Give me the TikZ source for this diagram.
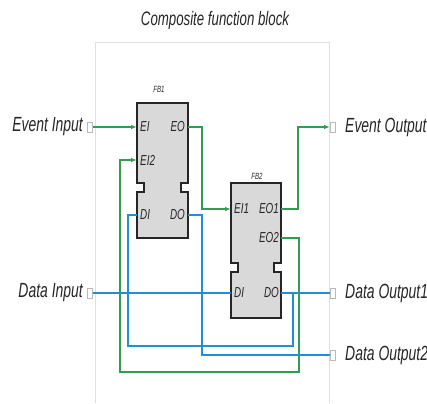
\documentclass[tikz,border=0pt]{standalone}
\usepackage{fontspec}
\setmainfont{Liberation Sans}
\newfontfamily\nar[FakeStretch=0.68]{Liberation Sans}
\usetikzlibrary{arrows.meta}
\definecolor{evgreen}{HTML}{2E9E50}
\definecolor{dablue}{HTML}{1F8FD6}
\tikzset{
  big/.style={font=\nar\itshape\fontsize{20.5}{22}\selectfont, inner sep=0pt, text=black!85},
  pin/.style={font=\nar\itshape\fontsize{14.5}{16}\selectfont, inner sep=0pt, text=black!85},
  fbname/.style={font=\nar\itshape\fontsize{9}{10}\selectfont, inner sep=0pt, text=black!85},
  port/.style={draw=gray!55, fill=white, line width=0.6pt, minimum width=5pt, minimum height=10pt, inner sep=0pt},
  ev/.style={draw=evgreen, line width=1.1pt},
  evarr/.style={ev, -{Latex[length=6pt,width=4.5pt]}},
  da/.style={draw=dablue, line width=1.3pt},
  dathick/.style={draw=dablue, line width=2pt},
  fbbox/.style={draw=black!85, fill=gray!30, line width=1.2pt},
}
\begin{document}
\begin{tikzpicture}[x=1pt,y=-1pt]
\useasboundingbox (0,0) rectangle (427,403);
% title
\node[big] (title) at (215,20) {\fontsize{19.5}{21}\selectfont Composite function block};
% outer box
\draw[gray!25, line width=1pt] (95,403) -- (95,43) -- (329,43) -- (329,403);
% FB1
\draw[fbbox] (137,103) -- (188,103) -- (188,183) -- (181,183) -- (181,192) -- (188,192) -- (188,238) -- (137,238) -- (137,192) -- (144,192) -- (144,183) -- (137,183) -- cycle;
\node[fbname] (fb1name) at (159,89) {FB1};
\coordinate (fb1ei) at (137,127);
\coordinate (fb1eo) at (188,127);
\coordinate (fb1ei2) at (137,160);
\coordinate (fb1di) at (137,215);
\coordinate (fb1do) at (188,215);
\node[pin, anchor=west] (l1) at (140,127) {EI};
\node[pin, anchor=east] (l2) at (185,127) {EO};
\node[pin, anchor=west] (l3) at (140,160) {EI2};
\node[pin, anchor=west] (l4) at (140,215) {DI};
\node[pin, anchor=east] (l5) at (185,215) {DO};
% FB2
\draw[fbbox] (231,183) -- (281,183) -- (281,263) -- (274,263) -- (274,272) -- (281,272) -- (281,318) -- (231,318) -- (231,272) -- (238,272) -- (238,263) -- (231,263) -- cycle;
\node[fbname] (fb2name) at (257,176) {FB2};
\coordinate (fb2ei1) at (231,209);
\coordinate (fb2eo1) at (281,209);
\coordinate (fb2eo2) at (281,238);
\coordinate (fb2di) at (231,293);
\coordinate (fb2do) at (281,293);
\node[pin, anchor=west] (m1) at (234,209) {EI1};
\node[pin, anchor=east] (m2) at (279,209) {EO1};
\node[pin, anchor=east] (m3) at (279,238) {EO2};
\node[pin, anchor=west] (m4) at (234,293) {DI};
\node[pin, anchor=east] (m5) at (279,293) {DO};
% interface ports
\node[port, anchor=east] (pEI) at (93,127) {};
\node[port, anchor=east] (pDI) at (93,293) {};
\node[port, anchor=west] (pEO) at (330,127) {};
\node[port, anchor=west] (pD1) at (330,293) {};
\node[port, anchor=west] (pD2) at (330,355) {};
\node[big, anchor=east] (tEI) at (83,127) {Event Input};
\node[big, anchor=east] (tDI) at (83,293) {Data Input};
\node[big, anchor=west] (tEO) at (345,127) {Event Output};
\node[big, anchor=west] (tD1) at (345,293) {Data Output1};
\node[big, anchor=west] (tD2) at (345,355) {Data Output2};
% event connections
\draw[evarr] (pEI.east) -- (fb1ei);
\draw[evarr] (fb1eo) -- ++(14,0) |- (fb2ei1);
\draw[evarr] (fb2eo1) -- ++(17,0) |- (pEO.west);
\draw[evarr] (fb2eo2) -- ++(18,0) |- (120,372) |- (fb1ei2);
% data connections
\draw[da] (pDI.east) -- (fb2di);
\draw[da] (fb1di) -- ++(-9,0) |- (293,346) |- (fb2do);
\draw[dathick] (fb1do) -- ++(14,0) |- (pD2.west);
\draw[dathick] (fb2do) -- (pD1.west);
\end{tikzpicture}
\end{document}
